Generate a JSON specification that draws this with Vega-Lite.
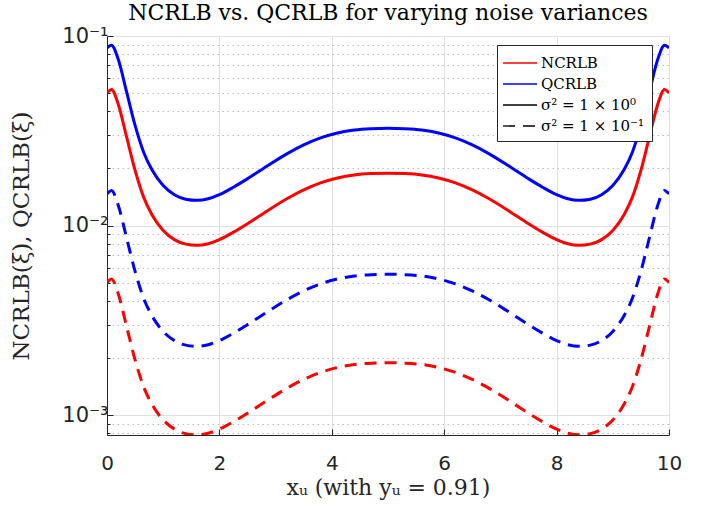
{
  "$schema": "https://vega.github.io/schema/vega-lite/v6.json",
  "width": 562,
  "height": 399,
  "autosize": "none",
  "padding": {"left": 107, "top": 36, "right": 43, "bottom": 71},
  "background": "white",
  "title": {
    "text": "NCRLB vs. QCRLB for varying noise variances",
    "font": "DejaVu Serif",
    "fontSize": 22,
    "fontWeight": "normal",
    "color": "#000000",
    "offset": 0
  },
  "datasets": {
    "curves": [
      {"x": 0, "v": 0.05012, "s": "N1"}, {"x": 0.08, "v": 0.05224, "s": "N1"}, {"x": 0.2, "v": 0.04365, "s": "N1"}, {"x": 0.35, "v": 0.02924, "s": "N1"}, {"x": 0.5, "v": 0.01954, "s": "N1"}, {"x": 0.65, "v": 0.01416, "s": "N1"}, {"x": 0.8, "v": 0.0114, "s": "N1"}, {"x": 1.0, "v": 0.00942, "s": "N1"}, {"x": 1.2, "v": 0.00843, "s": "N1"}, {"x": 1.4, "v": 0.00798, "s": "N1"}, {"x": 1.6, "v": 0.00787, "s": "N1"}, {"x": 1.8, "v": 0.00802, "s": "N1"}, {"x": 2.0, "v": 0.00843, "s": "N1"}, {"x": 2.25, "v": 0.00923, "s": "N1"}, {"x": 2.5, "v": 0.01023, "s": "N1"}, {"x": 2.85, "v": 0.01194, "s": "N1"}, {"x": 3.2, "v": 0.01384, "s": "N1"}, {"x": 3.5, "v": 0.01542, "s": "N1"}, {"x": 3.8, "v": 0.01679, "s": "N1"}, {"x": 4.1, "v": 0.01782, "s": "N1"}, {"x": 4.4, "v": 0.01849, "s": "N1"}, {"x": 4.7, "v": 0.01879, "s": "N1"}, {"x": 5.0, "v": 0.01888, "s": "N1"},
      {"x": 5.3, "v": 0.01879, "s": "N1"}, {"x": 5.6, "v": 0.01849, "s": "N1"}, {"x": 5.9, "v": 0.01782, "s": "N1"}, {"x": 6.2, "v": 0.01679, "s": "N1"}, {"x": 6.5, "v": 0.01542, "s": "N1"}, {"x": 6.8, "v": 0.01384, "s": "N1"}, {"x": 7.15, "v": 0.01194, "s": "N1"}, {"x": 7.5, "v": 0.01023, "s": "N1"}, {"x": 7.75, "v": 0.00923, "s": "N1"}, {"x": 8.0, "v": 0.00843, "s": "N1"}, {"x": 8.2, "v": 0.00802, "s": "N1"}, {"x": 8.4, "v": 0.00787, "s": "N1"}, {"x": 8.6, "v": 0.00798, "s": "N1"}, {"x": 8.8, "v": 0.00843, "s": "N1"}, {"x": 9.0, "v": 0.00942, "s": "N1"}, {"x": 9.2, "v": 0.0114, "s": "N1"}, {"x": 9.35, "v": 0.01416, "s": "N1"}, {"x": 9.5, "v": 0.01954, "s": "N1"}, {"x": 9.65, "v": 0.02924, "s": "N1"}, {"x": 9.8, "v": 0.04365, "s": "N1"}, {"x": 9.92, "v": 0.05224, "s": "N1"}, {"x": 10, "v": 0.05012, "s": "N1"},

      {"x": 0, "v": 0.0865, "s": "Q1"}, {"x": 0.08, "v": 0.0895, "s": "Q1"}, {"x": 0.2, "v": 0.0753, "s": "Q1"}, {"x": 0.35, "v": 0.0505, "s": "Q1"}, {"x": 0.5, "v": 0.03373, "s": "Q1"}, {"x": 0.65, "v": 0.02444, "s": "Q1"}, {"x": 0.8, "v": 0.01968, "s": "Q1"}, {"x": 1.0, "v": 0.01626, "s": "Q1"}, {"x": 1.2, "v": 0.01455, "s": "Q1"}, {"x": 1.4, "v": 0.01377, "s": "Q1"}, {"x": 1.6, "v": 0.01358, "s": "Q1"}, {"x": 1.8, "v": 0.01384, "s": "Q1"}, {"x": 2.0, "v": 0.01455, "s": "Q1"}, {"x": 2.25, "v": 0.01593, "s": "Q1"}, {"x": 2.5, "v": 0.01766, "s": "Q1"}, {"x": 2.85, "v": 0.02061, "s": "Q1"}, {"x": 3.2, "v": 0.02389, "s": "Q1"}, {"x": 3.5, "v": 0.02661, "s": "Q1"}, {"x": 3.8, "v": 0.02898, "s": "Q1"}, {"x": 4.1, "v": 0.03076, "s": "Q1"}, {"x": 4.4, "v": 0.03191, "s": "Q1"}, {"x": 4.7, "v": 0.03243, "s": "Q1"}, {"x": 5.0, "v": 0.03259, "s": "Q1"},
      {"x": 5.3, "v": 0.03243, "s": "Q1"}, {"x": 5.6, "v": 0.03191, "s": "Q1"}, {"x": 5.9, "v": 0.03076, "s": "Q1"}, {"x": 6.2, "v": 0.02898, "s": "Q1"}, {"x": 6.5, "v": 0.02661, "s": "Q1"}, {"x": 6.8, "v": 0.02389, "s": "Q1"}, {"x": 7.15, "v": 0.02061, "s": "Q1"}, {"x": 7.5, "v": 0.01766, "s": "Q1"}, {"x": 7.75, "v": 0.01593, "s": "Q1"}, {"x": 8.0, "v": 0.01455, "s": "Q1"}, {"x": 8.2, "v": 0.01384, "s": "Q1"}, {"x": 8.4, "v": 0.01358, "s": "Q1"}, {"x": 8.6, "v": 0.01377, "s": "Q1"}, {"x": 8.8, "v": 0.01455, "s": "Q1"}, {"x": 9.0, "v": 0.01626, "s": "Q1"}, {"x": 9.2, "v": 0.01968, "s": "Q1"}, {"x": 9.35, "v": 0.02444, "s": "Q1"}, {"x": 9.5, "v": 0.03373, "s": "Q1"}, {"x": 9.65, "v": 0.0505, "s": "Q1"}, {"x": 9.8, "v": 0.0753, "s": "Q1"}, {"x": 9.92, "v": 0.0895, "s": "Q1"}, {"x": 10, "v": 0.0865, "s": "Q1"},

      {"x": 0, "v": 0.005012, "s": "N2"}, {"x": 0.08, "v": 0.005224, "s": "N2"}, {"x": 0.2, "v": 0.004365, "s": "N2"}, {"x": 0.35, "v": 0.002924, "s": "N2"}, {"x": 0.5, "v": 0.001954, "s": "N2"}, {"x": 0.65, "v": 0.001416, "s": "N2"}, {"x": 0.8, "v": 0.00114, "s": "N2"}, {"x": 1.0, "v": 0.000942, "s": "N2"}, {"x": 1.2, "v": 0.000843, "s": "N2"}, {"x": 1.4, "v": 0.000798, "s": "N2"}, {"x": 1.6, "v": 0.000787, "s": "N2"}, {"x": 1.8, "v": 0.000802, "s": "N2"}, {"x": 2.0, "v": 0.000843, "s": "N2"}, {"x": 2.25, "v": 0.000923, "s": "N2"}, {"x": 2.5, "v": 0.001023, "s": "N2"}, {"x": 2.85, "v": 0.001194, "s": "N2"}, {"x": 3.2, "v": 0.001384, "s": "N2"}, {"x": 3.5, "v": 0.001542, "s": "N2"}, {"x": 3.8, "v": 0.001679, "s": "N2"}, {"x": 4.1, "v": 0.001782, "s": "N2"}, {"x": 4.4, "v": 0.001849, "s": "N2"}, {"x": 4.7, "v": 0.001879, "s": "N2"}, {"x": 5.0, "v": 0.001888, "s": "N2"},
      {"x": 5.3, "v": 0.001879, "s": "N2"}, {"x": 5.6, "v": 0.001849, "s": "N2"}, {"x": 5.9, "v": 0.001782, "s": "N2"}, {"x": 6.2, "v": 0.001679, "s": "N2"}, {"x": 6.5, "v": 0.001542, "s": "N2"}, {"x": 6.8, "v": 0.001384, "s": "N2"}, {"x": 7.15, "v": 0.001194, "s": "N2"}, {"x": 7.5, "v": 0.001023, "s": "N2"}, {"x": 7.75, "v": 0.000923, "s": "N2"}, {"x": 8.0, "v": 0.000843, "s": "N2"}, {"x": 8.2, "v": 0.000802, "s": "N2"}, {"x": 8.4, "v": 0.000787, "s": "N2"}, {"x": 8.6, "v": 0.000798, "s": "N2"}, {"x": 8.8, "v": 0.000843, "s": "N2"}, {"x": 9.0, "v": 0.000942, "s": "N2"}, {"x": 9.2, "v": 0.00114, "s": "N2"}, {"x": 9.35, "v": 0.001416, "s": "N2"}, {"x": 9.5, "v": 0.001954, "s": "N2"}, {"x": 9.65, "v": 0.002924, "s": "N2"}, {"x": 9.8, "v": 0.004365, "s": "N2"}, {"x": 9.92, "v": 0.005224, "s": "N2"}, {"x": 10, "v": 0.005012, "s": "N2"},

      {"x": 0, "v": 0.01469, "s": "Q2"}, {"x": 0.08, "v": 0.0153, "s": "Q2"}, {"x": 0.2, "v": 0.01279, "s": "Q2"}, {"x": 0.35, "v": 0.00858, "s": "Q2"}, {"x": 0.5, "v": 0.00573, "s": "Q2"}, {"x": 0.65, "v": 0.00415, "s": "Q2"}, {"x": 0.8, "v": 0.003342, "s": "Q2"}, {"x": 1.0, "v": 0.002762, "s": "Q2"}, {"x": 1.2, "v": 0.002471, "s": "Q2"}, {"x": 1.4, "v": 0.002339, "s": "Q2"}, {"x": 1.6, "v": 0.002306, "s": "Q2"}, {"x": 1.8, "v": 0.002351, "s": "Q2"}, {"x": 2.0, "v": 0.002471, "s": "Q2"}, {"x": 2.25, "v": 0.002706, "s": "Q2"}, {"x": 2.5, "v": 0.003, "s": "Q2"}, {"x": 2.85, "v": 0.0035, "s": "Q2"}, {"x": 3.2, "v": 0.004057, "s": "Q2"}, {"x": 3.5, "v": 0.004519, "s": "Q2"}, {"x": 3.8, "v": 0.004922, "s": "Q2"}, {"x": 4.1, "v": 0.005224, "s": "Q2"}, {"x": 4.4, "v": 0.00542, "s": "Q2"}, {"x": 4.7, "v": 0.005508, "s": "Q2"}, {"x": 5.0, "v": 0.005535, "s": "Q2"},
      {"x": 5.3, "v": 0.005508, "s": "Q2"}, {"x": 5.6, "v": 0.00542, "s": "Q2"}, {"x": 5.9, "v": 0.005224, "s": "Q2"}, {"x": 6.2, "v": 0.004922, "s": "Q2"}, {"x": 6.5, "v": 0.004519, "s": "Q2"}, {"x": 6.8, "v": 0.004057, "s": "Q2"}, {"x": 7.15, "v": 0.0035, "s": "Q2"}, {"x": 7.5, "v": 0.003, "s": "Q2"}, {"x": 7.75, "v": 0.002706, "s": "Q2"}, {"x": 8.0, "v": 0.002471, "s": "Q2"}, {"x": 8.2, "v": 0.002351, "s": "Q2"}, {"x": 8.4, "v": 0.002306, "s": "Q2"}, {"x": 8.6, "v": 0.002339, "s": "Q2"}, {"x": 8.8, "v": 0.002471, "s": "Q2"}, {"x": 9.0, "v": 0.002762, "s": "Q2"}, {"x": 9.2, "v": 0.003342, "s": "Q2"}, {"x": 9.35, "v": 0.00415, "s": "Q2"}, {"x": 9.5, "v": 0.00573, "s": "Q2"}, {"x": 9.65, "v": 0.00858, "s": "Q2"}, {"x": 9.8, "v": 0.01279, "s": "Q2"}, {"x": 9.92, "v": 0.0153, "s": "Q2"}, {"x": 10, "v": 0.01469, "s": "Q2"}
    ],
    "legend": [
      {"leg": "NCRLB"},
      {"leg": "QCRLB"},
      {"leg": "σ² = 1 × 10⁰"},
      {"leg": "σ² = 1 × 10⁻¹"}
    ]
  },
  "encoding": {
    "x": {
      "field": "x", "type": "quantitative",
      "scale": {"domain": [0, 10], "nice": false, "zero": false},
      "axis": {
        "values": [0, 2, 4, 6, 8, 10],
        "title": "xᵤ (with yᵤ = 0.91)",
        "titleFont": "DejaVu Serif", "titleFontSize": 22, "titleFontWeight": "normal", "titleColor": "#262626",
        "titlePadding": 4,
        "labelFont": "DejaVu Sans", "labelFontSize": 20, "labelColor": "#262626", "labelPadding": 24,
        "labelFlush": false,
        "grid": true, "gridColor": "#e0e0e0", "gridWidth": 1,
        "domainColor": "#262626", "tickColor": "#262626", "tickSize": -6
      }
    },
    "y": {
      "field": "v", "type": "quantitative",
      "scale": {"type": "log", "domain": [0.000785, 0.1], "nice": false},
      "axis": {
        "values": [0.0008, 0.0009, 0.001, 0.002, 0.003, 0.004, 0.005, 0.006, 0.007, 0.008, 0.009, 0.01, 0.02, 0.03, 0.04, 0.05, 0.06, 0.07, 0.08, 0.09, 0.1],
        "labelExpr": "datum.value == 0.1 ? '10⁻¹' : datum.value == 0.01 ? '10⁻²' : datum.value == 0.001 ? '10⁻³' : ''",
        "title": "NCRLB(ξ), QCRLB(ξ)",
        "titleFont": "DejaVu Serif", "titleFontSize": 23, "titleFontWeight": "normal", "titleColor": "#262626",
        "titlePadding": 28,
        "labelFont": "DejaVu Sans", "labelFontSize": 21, "labelColor": "#262626", "labelPadding": 5,
        "grid": true,
        "gridColor": {"condition": {"test": "indexof([0.001, 0.01, 0.1], datum.value) >= 0", "value": "#e0e0e0"}, "value": "#bdbdbd"},
        "gridDash": {"condition": {"test": "indexof([0.001, 0.01, 0.1], datum.value) >= 0", "value": []}, "value": [1.5, 3.5]},
        "tickSize": {"condition": {"test": "indexof([0.001, 0.01, 0.1], datum.value) >= 0", "value": -6}, "value": -3},
        "domainColor": "#262626", "tickColor": "#262626"
      }
    }
  },
  "layer": [
    {
      "data": {"name": "curves"},
      "transform": [{"filter": "datum.s == 'N1'"}],
      "mark": {"type": "line", "color": "#ff0000", "strokeWidth": 3, "interpolate": "monotone", "clip": true}
    },
    {
      "data": {"name": "curves"},
      "transform": [{"filter": "datum.s == 'Q1'"}],
      "mark": {"type": "line", "color": "#0000ff", "strokeWidth": 3, "interpolate": "monotone", "clip": true}
    },
    {
      "data": {"name": "curves"},
      "transform": [{"filter": "datum.s == 'N2'"}],
      "mark": {"type": "line", "color": "#ff0000", "strokeWidth": 3, "strokeDash": [12, 8], "interpolate": "monotone", "clip": true}
    },
    {
      "data": {"name": "curves"},
      "transform": [{"filter": "datum.s == 'Q2'"}],
      "mark": {"type": "line", "color": "#0000ff", "strokeWidth": 3, "strokeDash": [12, 8], "interpolate": "monotone", "clip": true}
    },
    {
      "data": {"name": "legend"},
      "mark": {"type": "point", "opacity": 0},
      "encoding": {
        "x": {"value": 0},
        "y": {"value": 0},
        "color": {
          "field": "leg", "type": "nominal",
          "scale": {"domain": ["NCRLB", "QCRLB", "σ² = 1 × 10⁰", "σ² = 1 × 10⁻¹"], "range": ["#ff0000", "#0000ff", "#000000", "#000000"]},
          "legend": {
            "title": null, "orient": "none", "legendX": 390, "legendY": 9,
            "fillColor": "white", "strokeColor": "#262626", "padding": 7,
            "symbolType": "M-1.7,0H1.7", "symbolSize": 400, "symbolStrokeWidth": 1.3, "symbolOpacity": 1, "symbolOffset": 5,
            "labelFont": "DejaVu Serif", "labelFontSize": 15, "labelColor": "#000000", "labelOffset": 10,
            "rowPadding": 2, "labelLimit": 300
          }
        },
        "strokeDash": {
          "field": "leg", "type": "nominal",
          "scale": {"domain": ["NCRLB", "QCRLB", "σ² = 1 × 10⁰", "σ² = 1 × 10⁻¹"], "range": [[1, 0], [1, 0], [1, 0], [12, 8]]},
          "legend": {
            "title": null, "orient": "none", "legendX": 390, "legendY": 9,
            "fillColor": "white", "strokeColor": "#262626", "padding": 7,
            "symbolType": "M-1.7,0H1.7", "symbolSize": 400, "symbolStrokeWidth": 1.3, "symbolOpacity": 1, "symbolOffset": 5,
            "labelFont": "DejaVu Serif", "labelFontSize": 15, "labelColor": "#000000", "labelOffset": 10,
            "rowPadding": 2, "labelLimit": 300
          }
        }
      }
    }
  ],
  "config": {
    "view": {"stroke": "#c8c8c8"}
  }
}
